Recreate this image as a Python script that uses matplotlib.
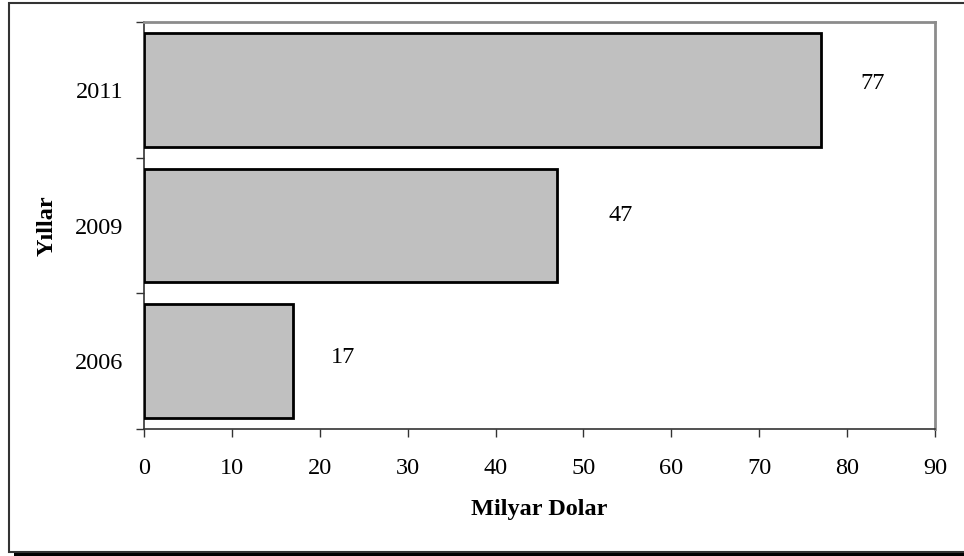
import matplotlib.pyplot as plt
from matplotlib.patches import Rectangle

years = ["2006", "2009", "2011"]
values = [17, 47, 77]
xticks = [0, 10, 20, 30, 40, 50, 60, 70, 80, 90]

# label offsets (pixels) from the end of each bar
label_dx = [37, 51, 40]
label_dy = [4, 10, 6]

plt.rcParams['font.family'] = ['Liberation Serif', 'DejaVu Serif']

W, H = 964, 556
fig = plt.figure(figsize=(W / 100, H / 100), dpi=100)
ax = fig.add_axes([144 / W, 1 - 429 / H, (935 - 144) / W, (429 - 22) / H])
ax.set_zorder(2)

# outer chart frame with its dark drop shadow along the bottom
fig.patches.append(Rectangle((14 / W, 0), 1, 4 / H, transform=fig.transFigure,
                             facecolor='black', edgecolor='none', zorder=-2))
fig.patches.append(Rectangle((8.5 / W, 4.5 / H), 1, (553.5 - 4.5) / H,
                             transform=fig.transFigure, facecolor='white',
                             edgecolor='#333333', linewidth=1.5, zorder=-1))

pos = list(range(len(years)))
ax.barh(pos, values, height=0.84, color='#c0c0c0', edgecolor='black',
        linewidth=2, zorder=3)

for p, v, dx, dy in zip(pos, values, label_dx, label_dy):
    ax.annotate(str(v), xy=(v, p), xytext=(dx, dy), textcoords='offset pixels',
                ha='left', va='center', fontsize=17.5)

ax.set_xlim(0, 90)
ax.set_ylim(-0.5, 2.5)
ax.set_xticks(xticks)
ax.set_yticks(pos)
ax.set_yticklabels(years)
ax.set_yticks([-0.5, 0.5, 1.5, 2.5], minor=True)
ax.tick_params(axis='x', direction='out', length=6, width=1, pad=15,
               labelsize=17.5, color='#333333')
ax.tick_params(axis='y', which='major', length=0, pad=15, labelsize=17.5)
ax.tick_params(axis='y', which='minor', direction='out', length=6, width=1,
               color='#333333')

for s in ['left', 'bottom']:
    ax.spines[s].set_color('#333333')
    ax.spines[s].set_linewidth(1.2)
for s in ['top', 'right']:
    ax.spines[s].set_color('#8c8c8c')
    ax.spines[s].set_linewidth(2)

ax.set_xlabel("Milyar Dolar", fontsize=17.5, fontweight='bold', labelpad=14)
ax.set_ylabel("Yıllar", fontsize=17.5, fontweight='bold', labelpad=12)

fig.savefig("out.png", dpi=100)
